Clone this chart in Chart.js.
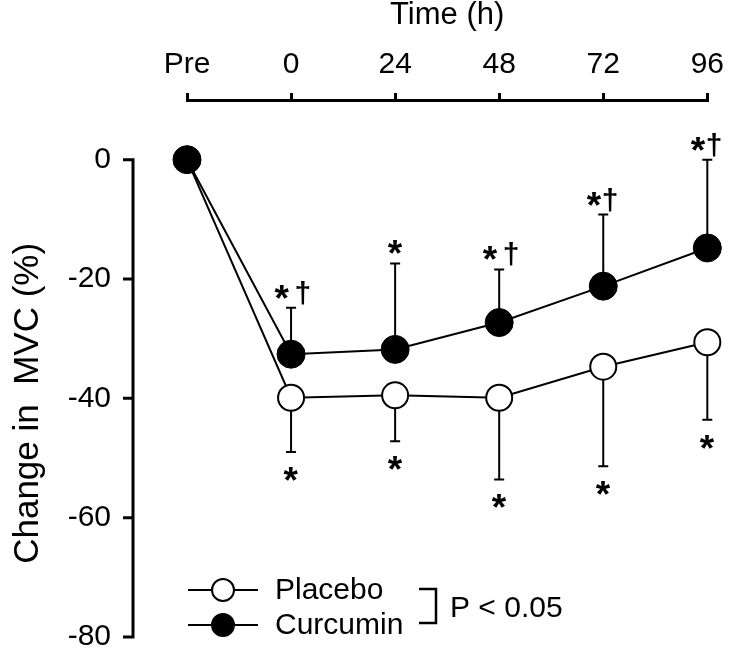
<!DOCTYPE html>
<html>
<head>
<meta charset="utf-8">
<script src="https://cdn.jsdelivr.net/npm/chart.js"></script>
<style>
  html, body { margin: 0; padding: 0; background: #fff; }
  #wrap { width: 734px; height: 654px; }
</style>
</head>
<body>
<div id="wrap"><canvas id="mvcChart"></canvas></div>
<script>
// values (change in MVC, %)
const timeLabels = ['Pre', '0', '24', '48', '72', '96'];
const placeboMean = [0, -39.9, -39.5, -39.9, -34.7, -30.6];
const placeboSD = [0, 9.1, 7.7, 13.7, 16.7, 13.0];
const curcuminMean = [0, -32.6, -31.8, -27.3, -21.2, -14.8];
const curcuminSD = [0, 7.8, 14.4, 8.9, 12.0, 14.8];
const placeboMarks = ['', '*', '*', '*', '*', '*'];
const curcuminMarks = ['', '* †', '*', '* †', '*†', '*†'];
const yTicks = [0, -20, -40, -60, -80];

const FONT = '"Liberation Sans", Arial, Helvetica, sans-serif';
Chart.defaults.font.family = FONT;
Chart.defaults.color = '#000';

// draw a glyph with its ink centred on (cx, cy)
function inkText(ctx, s, cx, cy) {
    const m = ctx.measureText(s);
    const x = cx - (m.actualBoundingBoxRight - m.actualBoundingBoxLeft) / 2;
    const y = cy + (m.actualBoundingBoxAscent - m.actualBoundingBoxDescent) / 2;
    ctx.fillText(s, x, y);
}

// asterisk, optionally followed by a dagger
function drawMark(ctx, text, cx, cy) {
    if (!text) return;
    ctx.textAlign = 'left';
    ctx.textBaseline = 'alphabetic';
    const hasDagger = text.indexOf('†') >= 0;
    ctx.font = 'bold 37px ' + FONT;
    inkText(ctx, '*', hasDagger ? cx - 9 : cx, cy);
    if (hasDagger) {
        ctx.font = 'bold 30px ' + FONT;
        inkText(ctx, '†', cx + (text.indexOf(' ') >= 0 ? 12 : 7), cy + 1);
    }
}

const extras = {
    id: 'extras',
    beforeDatasetsDraw(chart) {
        // error bars: curcumin up, placebo down
        const { ctx, scales: { x, y } } = chart;
        ctx.save();
        ctx.strokeStyle = '#000';
        ctx.lineWidth = 2;
        const bar = (px, from, to) => {
            ctx.beginPath();
            ctx.moveTo(px, from);
            ctx.lineTo(px, to);
            ctx.moveTo(px - 5, to);
            ctx.lineTo(px + 5, to);
            ctx.stroke();
        };
        timeLabels.forEach((t, i) => {
            const px = x.getPixelForValue(i);
            if (curcuminSD[i]) bar(px, y.getPixelForValue(curcuminMean[i]), y.getPixelForValue(curcuminMean[i] + curcuminSD[i]));
            if (placeboSD[i]) bar(px, y.getPixelForValue(placeboMean[i]), y.getPixelForValue(placeboMean[i] - placeboSD[i]));
        });
        ctx.restore();
    },
    afterDatasetsDraw(chart) {
        const { ctx, scales: { x, y } } = chart;
        ctx.save();
        ctx.fillStyle = '#000';
        timeLabels.forEach((t, i) => {
            const px = x.getPixelForValue(i);
            drawMark(ctx, curcuminMarks[i], px, y.getPixelForValue(curcuminMean[i] + curcuminSD[i]) - 16);
            drawMark(ctx, placeboMarks[i], px, y.getPixelForValue(placeboMean[i] - placeboSD[i]) + 22);
        });
        ctx.restore();
    },
    afterDraw(chart) {
        const { ctx, chartArea, scales: { y } } = chart;
        ctx.save();
        ctx.strokeStyle = '#000';
        ctx.fillStyle = '#000';

        // detached y axis line with ticks
        const ax = chartArea.left - 54;
        const yTop = y.getPixelForValue(yTicks[0]);
        const yBot = y.getPixelForValue(yTicks[yTicks.length - 1]);
        ctx.lineWidth = 3;
        ctx.beginPath();
        ctx.moveTo(ax, yTop - 1.5);
        ctx.lineTo(ax, yBot + 1.5);
        yTicks.forEach(v => {
            const py = y.getPixelForValue(v);
            ctx.moveTo(ax, py);
            ctx.lineTo(ax - 10, py);
        });
        ctx.stroke();

        // y title, centred on the axis line
        ctx.save();
        ctx.translate(28, (yTop + yBot) / 2 + 5);
        ctx.rotate(-Math.PI / 2);
        ctx.font = '35px ' + FONT;
        ctx.textAlign = 'center';
        ctx.textBaseline = 'middle';
        ctx.fillText('Change in  MVC (%)', 0, 0);
        ctx.restore();

        // legend
        const rows = [
            { label: chart.data.datasets[1].label, fill: '#fff', y: 590 },
            { label: chart.data.datasets[0].label, fill: '#000', y: 625 }
        ];
        ctx.font = '30px ' + FONT;
        ctx.textAlign = 'left';
        ctx.textBaseline = 'middle';
        rows.forEach(r => {
            ctx.lineWidth = 2;
            ctx.beginPath();
            ctx.moveTo(188, r.y);
            ctx.lineTo(258, r.y);
            ctx.stroke();
            ctx.beginPath();
            ctx.arc(223, r.y, 11, 0, Math.PI * 2);
            ctx.fillStyle = r.fill;
            ctx.fill();
            ctx.stroke();
            ctx.fillStyle = '#000';
            ctx.fillText(r.label, 275, r.y + 1);
        });
        ctx.lineWidth = 2.5;
        ctx.beginPath();
        ctx.moveTo(419, 589);
        ctx.lineTo(436, 589);
        ctx.lineTo(436, 623);
        ctx.lineTo(419, 623);
        ctx.stroke();
        ctx.fillText('P < 0.05', 450, 609);
        ctx.restore();
    }
};

new Chart(document.getElementById('mvcChart'), {
    type: 'line',
    data: {
        labels: timeLabels,
        datasets: [{
            label: 'Curcumin',
            data: curcuminMean,
            order: 0,
            borderColor: '#000',
            borderWidth: 2,
            backgroundColor: '#000',
            pointBackgroundColor: '#000',
            pointBorderColor: '#000',
            pointRadius: 14,
            pointBorderWidth: 1,
            tension: 0,
            clip: false
        }, {
            label: 'Placebo',
            data: placeboMean,
            order: 1,
            borderColor: '#000',
            borderWidth: 2,
            backgroundColor: '#fff',
            pointBackgroundColor: '#fff',
            pointBorderColor: '#000',
            pointRadius: 13,
            pointBorderWidth: 2,
            tension: 0,
            clip: false
        }]
    },
    options: {
        responsive: true,
        maintainAspectRatio: false,
        animation: false,
        layout: { padding: { top: 0, left: 0, right: 18, bottom: 17 } },
        plugins: {
            legend: { display: false },
            tooltip: { enabled: false }
        },
        scales: {
            x: {
                position: 'top',
                offset: false,
                afterFit(scale) { scale.height = 100; },
                border: { display: true, color: '#000', width: 3 },
                grid: { display: true, drawOnChartArea: false, drawTicks: true, tickLength: 7, color: '#000', lineWidth: 3 },
                ticks: { font: { size: 30 }, padding: 10, maxRotation: 0, autoSkip: false },
                title: { display: true, text: 'Time (h)', font: { size: 31, lineHeight: 1 }, padding: { top: 0, bottom: 0 } }
            },
            y: {
                min: -80,
                max: 10,
                afterFit(scale) {
                    scale.width = 187;
                    scale.paddingTop = 0;
                    scale.paddingBottom = 0;
                },
                afterBuildTicks(scale) { scale.ticks = yTicks.map(v => ({ value: v })); },
                border: { display: false },
                // tick marks are not drawn here; tickLength only pushes the labels left
                grid: { display: false, drawTicks: true, tickLength: 70 },
                ticks: { font: { size: 30 }, padding: 6 }
            }
        }
    },
    plugins: [extras]
});
</script>
</body>
</html>
